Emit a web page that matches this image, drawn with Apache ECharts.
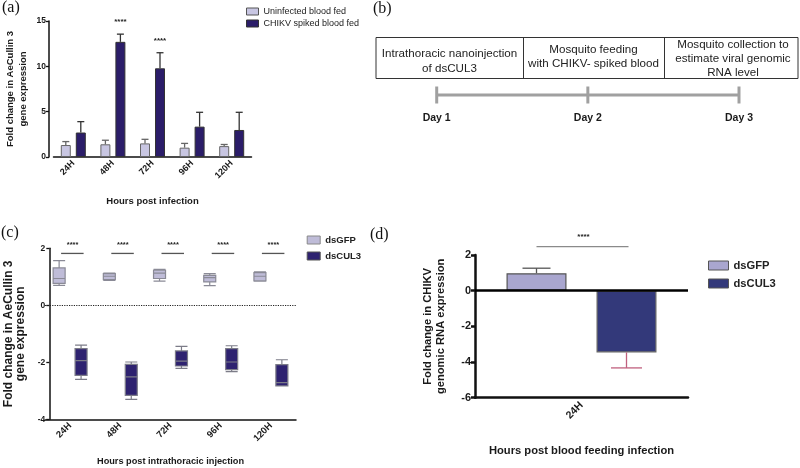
<!DOCTYPE html>
<html><head><meta charset="utf-8">
<script src="https://cdn.jsdelivr.net/npm/echarts@6/dist/echarts.min.js"></script>
<style>html,body{margin:0;padding:0;background:#fff}#c{width:800px;height:468px}</style>
</head><body><div id="c"></div>
<script>
const FONT = 'Liberation Sans';

// ---------- Panel (a) ----------
const hoursA = ['24H', '48H', '72H', '96H', '120H'];
const uninfectedMean = [1.32, 1.40, 1.50, 1.03, 1.20];
const uninfectedSEM  = [0.38, 0.45, 0.45, 0.47, 0.18];
const chikvMean = [2.70, 12.70, 9.78, 3.35, 2.98];
const chikvSEM  = [1.20, 0.85, 1.72, 1.58, 1.95];
const sigA = ['', '****', '****', '', ''];

// ---------- Panel (b) ----------
const days = ['Day 1', 'Day 2', 'Day 3'];
const steps = [
  'Intrathoracic nanoinjection\nof dsCUL3',
  'Mosquito feeding\nwith CHIKV- spiked blood',
  'Mosquito collection to\nestimate viral genomic\nRNA level'
];

// ---------- Panel (c) ---------- [min, Q1, median, Q3, max]
const hoursC = ['24H', '48H', '72H', '96H', '120H'];
const dsGFPBox = [
  [0.70, 0.77, 0.94, 1.31, 1.57],
  [0.87, 0.90, 1.02, 1.11, 1.13],
  [0.85, 0.94, 1.13, 1.23, 1.26],
  [0.69, 0.82, 0.97, 1.05, 1.11],
  [0.85, 0.86, 1.02, 1.15, 1.17]
];
const dsCUL3Box = [
  [-2.60, -2.46, -1.94, -1.52, -1.40],
  [-3.30, -3.16, -2.51, -2.07, -1.99],
  [-2.21, -2.13, -1.96, -1.60, -1.44],
  [-2.33, -2.26, -1.99, -1.52, -1.42],
  [-2.83, -2.83, -2.71, -2.08, -1.91]
];
const sigC = ['****', '****', '****', '****', '****'];
const sigLevelC = 1.82;

// ---------- Panel (d) ----------
const hoursD = ['24H'];
const dsGFPMean = [0.98];
const dsGFPSEM  = [0.28];
const dsCUL3Mean = [-3.46];
const dsCUL3SEM  = [0.87];
const sigD = ['****'];
const sigLevelD = 2.47;

const COL = {
  aLight: '#c8c6e2', aDark: '#2b1d69',
  cLight: '#bfbcd8', cDark: '#2e2270',
  dLight: '#a9a6cf', dDark: '#33397a'
};

function errorBars(offset, capW, color, down) {
  return function (params, api) {
    const i = api.value(0), m = api.value(1), s = api.value(2);
    const a = api.coord([i, m]);
    const b = api.coord([i, down ? m - s : m + s]);
    const x = a[0] + offset;
    return { type: 'group', children: [
      { type: 'line', shape: { x1: x, y1: a[1], x2: x, y2: b[1] }, style: { stroke: color, lineWidth: 1.3 } },
      { type: 'line', shape: { x1: x - capW / 2, y1: b[1], x2: x + capW / 2, y2: b[1] }, style: { stroke: color, lineWidth: 1.3 } }
    ]};
  };
}

function boldAxisLabel(size, rotate) {
  return { fontFamily: FONT, fontWeight: 'bold', fontSize: size, color: '#1a1a1a', rotate: rotate || 0 };
}
const axisLineBlack = (w) => ({ show: true, onZero: false, lineStyle: { color: '#111', width: w } });

const chart = echarts.init(document.getElementById('c'), null, { renderer: 'canvas' });

const option = {
  animation: false,
  backgroundColor: '#fff',
  textStyle: { fontFamily: FONT },
  grid: [
    { left: 53.5, top: 21, width: 198, height: 136 },      // (a)
    { left: 45, top: 248.3, width: 251, height: 171 },     // (c)
    { left: 475, top: 255, width: 213, height: 142.7 },    // (d)
    { left: 436.7, top: 85, width: 302.3, height: 20 }     // (b) timeline
  ],
  xAxis: [
    { gridIndex: 0, type: 'category', data: hoursA,
      axisLine: axisLineBlack(1.5), axisTick: { alignWithLabel: true, length: 4, lineStyle: { color: '#111', width: 1.3 } },
      axisLabel: Object.assign(boldAxisLabel(9, 45), { margin: 5 }),
      name: 'Hours post infection', nameLocation: 'middle', nameGap: 39,
      nameTextStyle: { fontFamily: FONT, fontWeight: 'bold', fontSize: 9.5, color: '#1a1a1a' } },
    { gridIndex: 1, type: 'category', data: hoursC,
      axisLine: axisLineBlack(1.5), axisTick: { show: false },
      axisLabel: Object.assign(boldAxisLabel(9.3, 45), { margin: 5 }),
      name: 'Hours post intrathoracic injection', nameLocation: 'middle', nameGap: 38,
      nameTextStyle: { fontFamily: FONT, fontWeight: 'bold', fontSize: 9.2, color: '#1a1a1a' } },
    { gridIndex: 2, type: 'category', data: hoursD,
      axisLine: axisLineBlack(2.5), axisTick: { show: false },
      axisLabel: Object.assign(boldAxisLabel(10.5, 45), { margin: 6 }),
      name: 'Hours post blood feeding infection', nameLocation: 'middle', nameGap: 48,
      nameTextStyle: { fontFamily: FONT, fontWeight: 'bold', fontSize: 11.2, color: '#1a1a1a' } },
    { gridIndex: 3, type: 'category', data: days, boundaryGap: false,
      axisLine: { show: false }, axisTick: { show: false },
      axisLabel: { fontFamily: FONT, fontWeight: 'bold', fontSize: 10.5, color: '#1a1a1a', margin: 8 } }
  ],
  yAxis: [
    { gridIndex: 0, type: 'value', min: 0, max: 15, interval: 5, offset: 4.5,
      axisLine: axisLineBlack(1.5), axisTick: { show: true, length: 3, lineStyle: { color: '#111', width: 1.3 } },
      axisLabel: Object.assign(boldAxisLabel(8.5), { margin: 3 }), splitLine: { show: false },
      name: 'Fold change in AeCullin 3\ngene expression', nameLocation: 'middle', nameRotate: 90, nameGap: 19,
      nameTextStyle: { fontFamily: FONT, fontWeight: 'bold', fontSize: 9.5, lineHeight: 13, color: '#1a1a1a' } },
    { gridIndex: 1, type: 'value', min: -4, max: 2, interval: 2, offset: -4.3,
      axisLine: axisLineBlack(1.5), axisTick: { show: true, length: 3, lineStyle: { color: '#111', width: 1.3 } },
      axisLabel: Object.assign(boldAxisLabel(8.5), { margin: 4 }), splitLine: { show: false },
      name: 'Fold change in AeCullin 3\ngene expression', nameLocation: 'middle', nameRotate: 90, nameGap: 23,
      nameTextStyle: { fontFamily: FONT, fontWeight: 'bold', fontSize: 12, lineHeight: 12, color: '#1a1a1a' } },
    { gridIndex: 2, type: 'value', min: -6, max: 2, interval: 2,
      axisLine: axisLineBlack(2.5), axisTick: { show: true, length: 4, lineStyle: { color: '#111', width: 2.5 } },
      axisLabel: Object.assign(boldAxisLabel(11), { margin: 4 }), splitLine: { show: false },
      name: 'Fold change in CHIKV\ngenomic RNA expression', nameLocation: 'middle', nameRotate: 90, nameGap: 28,
      nameTextStyle: { fontFamily: FONT, fontWeight: 'bold', fontSize: 11.2, lineHeight: 13, color: '#1a1a1a' } },
    { gridIndex: 3, type: 'value', min: -1, max: 1, show: false }
  ],
  legend: [
    { left: 241, top: 2, orient: 'vertical', icon: 'rect', itemWidth: 12, itemHeight: 7, itemGap: 3,
      textStyle: { fontFamily: FONT, fontSize: 9, color: '#222' },
      data: [
        { name: 'Uninfected blood fed', itemStyle: { color: COL.aLight, borderColor: '#555', borderWidth: 1 } },
        { name: 'CHIKV spiked blood fed', itemStyle: { color: COL.aDark, borderColor: '#333', borderWidth: 1 } }
      ] },
    { left: 301.7, top: 230, orient: 'vertical', icon: 'rect', itemWidth: 13, itemHeight: 8, itemGap: 6,
      textStyle: { fontFamily: FONT, fontSize: 9.5, fontWeight: 'bold', color: '#222' },
      data: [
        { name: 'dsGFP', itemStyle: { color: COL.cLight, borderColor: '#888', borderWidth: 1 } },
        { name: 'dsCUL3', itemStyle: { color: COL.cDark, borderColor: '#555', borderWidth: 1 } }
      ] },
    { left: 703, top: 255, orient: 'vertical', icon: 'rect', itemWidth: 20, itemHeight: 9, itemGap: 7,
      textStyle: { fontFamily: FONT, fontSize: 11.2, fontWeight: 'bold', color: '#222' },
      data: [
        { name: 'dsGFP', itemStyle: { color: COL.dLight, borderColor: '#555', borderWidth: 1 } },
        { name: 'dsCUL3', itemStyle: { color: COL.dDark, borderColor: '#555', borderWidth: 1 } }
      ] }
  ],
  graphic: [
    { type: 'text', left: 2, top: 0, style: { text: '(a)', font: '16px Liberation Serif', fill: '#111' } },
    { type: 'text', left: 373, top: 1, style: { text: '(b)', font: '16px Liberation Serif', fill: '#111' } },
    { type: 'text', left: 1, top: 225, style: { text: '(c)', font: '16px Liberation Serif', fill: '#111' } },
    { type: 'text', left: 370, top: 227, style: { text: '(d)', font: '16px Liberation Serif', fill: '#111' } },
    { type: 'rect', shape: { x: 376, y: 37.5, width: 422, height: 41 }, style: { fill: 'none', stroke: '#333', lineWidth: 1 } },
    { type: 'line', shape: { x1: 523.5, y1: 37.5, x2: 523.5, y2: 78.5 }, style: { stroke: '#333', lineWidth: 1 } },
    { type: 'line', shape: { x1: 664.5, y1: 37.5, x2: 664.5, y2: 78.5 }, style: { stroke: '#333', lineWidth: 1 } },
    { type: 'text', x: 449.5, y: 60.8, style: { text: steps[0], font: '11.6px Liberation Sans', lineHeight: 15, fill: '#222', align: 'center', verticalAlign: 'middle' } },
    { type: 'text', x: 593.5, y: 56.7, style: { text: steps[1], font: '11.6px Liberation Sans', lineHeight: 13.5, fill: '#222', align: 'center', verticalAlign: 'middle' } },
    { type: 'text', x: 733, y: 58.5, style: { text: steps[2], font: '11.6px Liberation Sans', lineHeight: 14.2, fill: '#222', align: 'center', verticalAlign: 'middle' } }
  ],
  series: [
    // (a)
    { type: 'bar', name: 'Uninfected blood fed', xAxisIndex: 0, yAxisIndex: 0, data: uninfectedMean,
      barWidth: 10, barGap: '50%', itemStyle: { color: COL.aLight, borderColor: '#666', borderWidth: 1 } },
    { type: 'bar', name: 'CHIKV spiked blood fed', xAxisIndex: 0, yAxisIndex: 0, data: chikvMean,
      barWidth: 10, barGap: '50%', itemStyle: { color: COL.aDark, borderColor: '#333', borderWidth: 1 } },
    { type: 'custom', name: 'err-uninfected', xAxisIndex: 0, yAxisIndex: 0,
      data: hoursA.map((h, i) => [i, uninfectedMean[i], uninfectedSEM[i]]),
      renderItem: errorBars(-7.5, 7, '#666', false), z: 3 },
    { type: 'custom', name: 'err-chikv', xAxisIndex: 0, yAxisIndex: 0,
      data: hoursA.map((h, i) => [i, chikvMean[i], chikvSEM[i]]),
      renderItem: errorBars(7.5, 7, '#333', false), z: 3 },
    { type: 'custom', name: 'sig-a', xAxisIndex: 0, yAxisIndex: 0, clip: false,
      data: hoursA.map((h, i) => [i, chikvMean[i] + chikvSEM[i]]),
      renderItem: function (params, api) {
        const t = sigA[params.dataIndex];
        if (!t) return null;
        const p = api.coord([api.value(0), api.value(1)]);
        return { type: 'text', style: { text: t, x: p[0] + 7.5, y: p[1] - 12, align: 'center', verticalAlign: 'middle',
          font: 'bold 8px Liberation Sans', fill: '#222' } };
      } },
    // (c)
    { type: 'boxplot', name: 'dsGFP', xAxisIndex: 1, yAxisIndex: 1, data: dsGFPBox, boxWidth: [12, 12],
      itemStyle: { color: COL.cLight, borderColor: '#8a8a96', borderWidth: 1.2 },
      markLine: { silent: true, symbol: 'none', label: { show: false },
        lineStyle: { type: 'dotted', color: '#222', width: 1.2 }, data: [{ yAxis: 0 }] } },
    { type: 'boxplot', name: 'dsCUL3', xAxisIndex: 1, yAxisIndex: 1, data: dsCUL3Box, boxWidth: [12, 12],
      itemStyle: { color: COL.cDark, borderColor: '#7c7c88', borderWidth: 1.2 } },
    { type: 'custom', name: 'sig-c', xAxisIndex: 1, yAxisIndex: 1, clip: false,
      data: hoursC.map((h, i) => [i, sigLevelC]),
      renderItem: function (params, api) {
        const p = api.coord([api.value(0), api.value(1)]);
        return { type: 'group', children: [
          { type: 'line', shape: { x1: p[0] - 9, y1: p[1], x2: p[0] + 13.5, y2: p[1] }, style: { stroke: '#555', lineWidth: 1.3 } },
          { type: 'text', style: { text: sigC[params.dataIndex], x: p[0] + 2.5, y: p[1] - 8, align: 'center', verticalAlign: 'middle',
            font: 'bold 7.5px Liberation Sans', fill: '#222' } }
        ]};
      } },
    // (d)
    { type: 'bar', name: 'dsGFP', xAxisIndex: 2, yAxisIndex: 2, data: dsGFPMean,
      barWidth: 60, barGap: '50%', itemStyle: { color: COL.dLight, borderColor: '#555', borderWidth: 1.2 },
      markLine: { silent: true, symbol: 'none', label: { show: false },
        lineStyle: { type: 'solid', color: '#000', width: 2.5 }, data: [{ yAxis: 0 }] } },
    { type: 'bar', name: 'dsCUL3', xAxisIndex: 2, yAxisIndex: 2, data: dsCUL3Mean,
      barWidth: 60, barGap: '50%', itemStyle: { color: COL.dDark, borderColor: '#666', borderWidth: 1.2 } },
    { type: 'custom', name: 'err-dsGFP', xAxisIndex: 2, yAxisIndex: 2,
      data: hoursD.map((h, i) => [i, dsGFPMean[i], dsGFPSEM[i]]),
      renderItem: errorBars(-45, 28, '#555', false), z: 3 },
    { type: 'custom', name: 'err-dsCUL3', xAxisIndex: 2, yAxisIndex: 2,
      data: hoursD.map((h, i) => [i, dsCUL3Mean[i], dsCUL3SEM[i]]),
      renderItem: errorBars(45, 31, '#c0607e', true), z: 3 },
    { type: 'custom', name: 'sig-d', xAxisIndex: 2, yAxisIndex: 2, clip: false,
      data: hoursD.map((h, i) => [i, sigLevelD]),
      renderItem: function (params, api) {
        const p = api.coord([api.value(0), api.value(1)]);
        return { type: 'group', children: [
          { type: 'line', shape: { x1: p[0] - 45, y1: p[1], x2: p[0] + 47, y2: p[1] }, style: { stroke: '#8a8a8a', lineWidth: 1.3 } },
          { type: 'text', style: { text: sigD[params.dataIndex], x: p[0] + 2, y: p[1] - 9.5, align: 'center', verticalAlign: 'middle',
            font: 'bold 8px Liberation Sans', fill: '#222' } }
        ]};
      } },
    // (b) timeline
    { type: 'line', name: 'timeline', xAxisIndex: 3, yAxisIndex: 3, data: days.map(() => 0),
      symbol: 'rect', symbolSize: [3, 17], lineStyle: { color: '#a0a0a0', width: 3 }, itemStyle: { color: '#a0a0a0' } }
  ]
};
chart.setOption(option);
</script>
</body></html>
